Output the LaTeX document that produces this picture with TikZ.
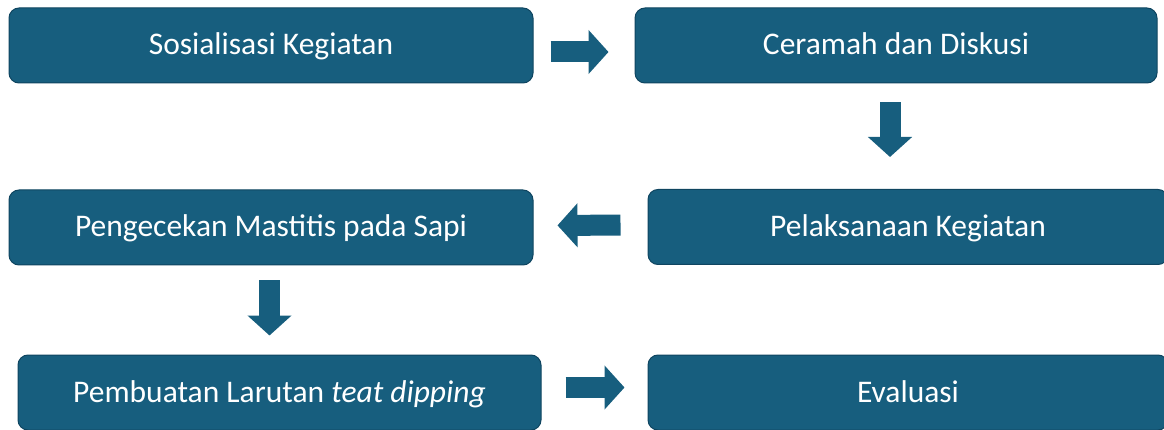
\documentclass[tikz,border=0pt]{standalone}
\usepackage{fontspec}
\setmainfont{Carlito}
\usetikzlibrary{arrows.meta}
\definecolor{boxblue}{HTML}{175E7E}
\definecolor{boxedge}{HTML}{0F4560}
\tikzset{
  stepbox/.style={draw=boxedge, line width=1pt, fill=boxblue, rounded corners=10pt,
    text=white, font=\fontsize{31.5}{36}\selectfont, minimum height=75pt, inner sep=0pt,
    text height=26pt, text depth=7pt},
  flow/.style={draw=boxblue, line width=21pt, line cap=butt,
    -{Triangle[width=43pt, length=20pt, fill=boxblue]}}
}
\begin{document}
\begin{tikzpicture}[x=1pt, y=-1pt]
            \useasboundingbox (0,0) rectangle (1164,430);
            \node[stepbox, minimum width=524pt] (S) at (271,45.5) {Sosialisasi Kegiatan};
            \node[stepbox, minimum width=522pt] (C) at (896,45.5) {Ceramah dan Diskusi};
            \node[stepbox, minimum width=520pt] (L) at (908,227) {Pelaksanaan Kegiatan};
            \node[stepbox, minimum width=524pt] (M) at (271,227.5) {Pengecekan Mastitis pada Sapi};
            \node[stepbox, minimum width=523pt] (P) at (279.5,392.5) {Pembuatan Larutan \textit{teat dipping}};
            \node[stepbox, minimum width=520pt] (E) at (908,392.5) {Evaluasi};
            \draw[flow, shorten <=17pt, shorten >=26pt] ([yshift=-6.5]S.east) to ([yshift=-6.5]C.west);
            \draw[flow, shorten <=19pt, shorten >=32pt] ([xshift=-6]C.south) to ([xshift=-6]C.south |- L.north);
            \draw[flow, shorten <=27pt, shorten >=24pt] ([yshift=2]L.west) to ([yshift=2]M.east);
            \draw[flow, shorten <=15pt, shorten >=19pt] ([xshift=-1.5]M.south) to ([xshift=-1.5]M.south |- P.north);
            \draw[flow, shorten <=24pt, shorten >=23pt] ([yshift=5]P.east) to ([yshift=5]E.west);
        \end{tikzpicture}
\end{document}
